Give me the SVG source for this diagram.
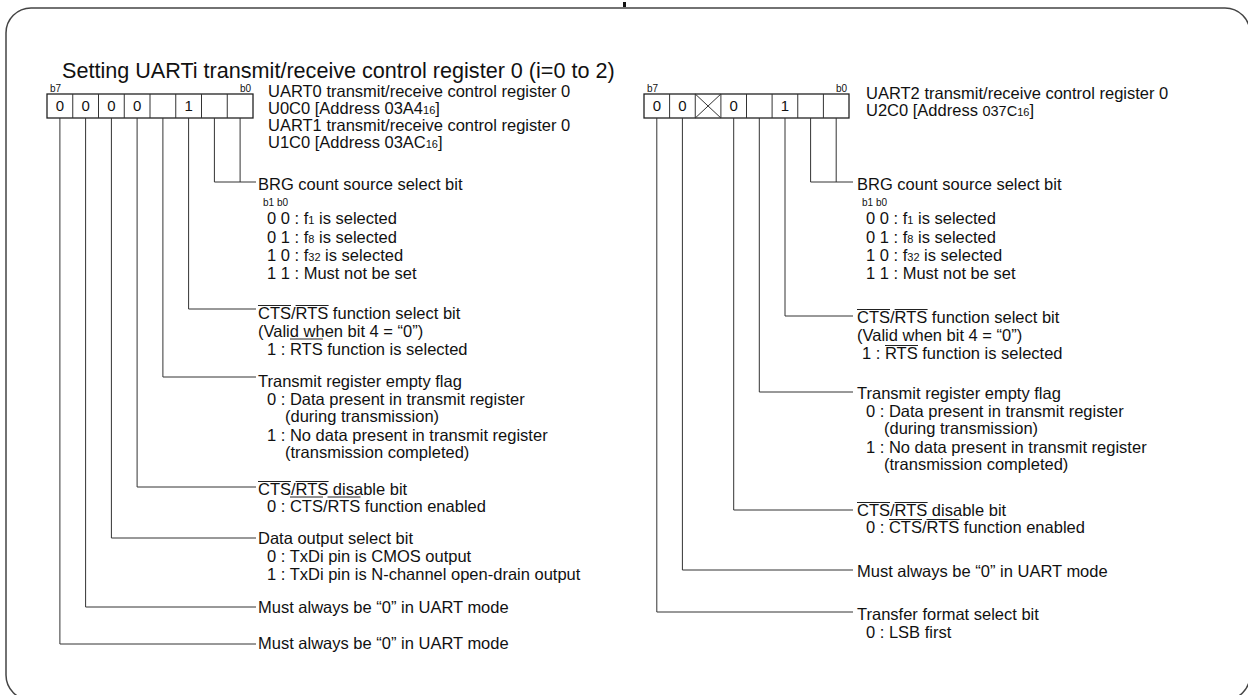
<svg xmlns="http://www.w3.org/2000/svg" width="1248" height="695" viewBox="0 0 1248 695">
<style>
text{font-family:"Liberation Sans",Arial,sans-serif;fill:#111;}
.t{font-size:21.6px;}
.b{font-size:16.5px;}
.s{font-size:10px;}
.d{font-size:15px;text-anchor:middle;}
.sub{font-size:11px;}
.ln{stroke:#333;stroke-width:1;fill:none;}
.ov{stroke:#222;stroke-width:1;fill:none;}
.box{stroke:#222;stroke-width:1.3;fill:#fff;}
</style>
<rect x="6" y="8" width="1244" height="692" rx="25" ry="25" fill="none" stroke="#444" stroke-width="1.5"/>
<rect x="623" y="2" width="3" height="5" fill="#111"/>
<text class="t" x="62" y="78">Setting UARTi transmit/receive control register 0 (i=0 to 2)</text>

<g id="reg-left">
<text class="s" x="50" y="91.5">b7</text>
<text class="s" x="251" y="91.5" text-anchor="end">b0</text>
<rect class="box" x="47" y="94" width="206" height="24"/>
<path class="ln" d="M72.75 94V118M98.5 94V118M124.25 94V118M150 94V118M175.75 94V118M201.5 94V118M227.25 94V118"/>
<text class="d" x="59.9" y="111">0</text>
<text class="d" x="85.6" y="111">0</text>
<text class="d" x="111.4" y="111">0</text>
<text class="d" x="137.1" y="111">0</text>
<text class="d" x="188.6" y="111">1</text>
<text class="b" x="268" y="97">UART0 transmit/receive control register 0</text>
<text class="b" x="268" y="114">U0C0 [Address 03A4<tspan class="sub">16</tspan>]</text>
<text class="b" x="268" y="131">UART1 transmit/receive control register 0</text>
<text class="b" x="268" y="148">U1C0 [Address 03AC<tspan class="sub">16</tspan>]</text>
</g>

<g id="reg-right">
<text class="s" x="647" y="91.5">b7</text>
<text class="s" x="847" y="91.5" text-anchor="end">b0</text>
<rect class="box" x="644" y="94" width="205" height="24"/>
<path class="ln" d="M669.6 94V118M695.25 94V118M720.9 94V118M746.5 94V118M772.1 94V118M797.75 94V118M823.4 94V118"/>
<path class="ln" d="M695.25 94L720.9 118M720.9 94L695.25 118"/>
<text class="d" x="656.8" y="111">0</text>
<text class="d" x="682.4" y="111">0</text>
<text class="d" x="733.7" y="111">0</text>
<text class="d" x="785" y="111">1</text>
<text class="b" x="866" y="99">UART2 transmit/receive control register 0</text>
<text class="b" x="866" y="116">U2C0 [Address <tspan font-size="14.5">037C</tspan><tspan class="sub">16</tspan>]</text>
</g>

<g id="connectors">
<path class="ln" d="M240.1 118V182M214.4 118V182H256"/>
<path class="ln" d="M188.6 118V309H256"/>
<path class="ln" d="M162.9 118V377H256"/>
<path class="ln" d="M137.1 118V487H256"/>
<path class="ln" d="M111.4 118V538H256"/>
<path class="ln" d="M85.6 118V607H256"/>
<path class="ln" d="M59.9 118V644H256"/>
<path class="ln" d="M836.2 118V182M810.6 118V182H853"/>
<path class="ln" d="M785 118V316H853"/>
<path class="ln" d="M759.3 118V392H853"/>
<path class="ln" d="M733.7 118V510H853"/>
<path class="ln" d="M682.4 118V570H853"/>
<path class="ln" d="M656.8 118V612H853"/>
</g>

<g id="left-brg">
<text class="b" x="258" y="190">BRG count source select bit</text>
<text class="s" x="263" y="206">b1 b0</text>
<text class="b" x="267" y="224">0 0 : f<tspan class="sub">1</tspan> is selected</text>
<text class="b" x="267" y="243">0 1 : f<tspan class="sub">8</tspan> is selected</text>
<text class="b" x="267" y="261">1 0 : f<tspan class="sub">32</tspan> is selected</text>
<text class="b" x="267" y="279">1 1 : Must not be set</text>
</g>
<g id="left-cts">
<text class="b" x="258" y="319">CTS/RTS function select bit</text>
<path class="ov" d="M258 305.5H291M295.6 305.5H328.6"/>
<text class="b" x="258" y="337">(Valid when bit 4 = “0”)</text>
<text class="b" x="267" y="355">1 : RTS function is selected</text>
<path class="ov" d="M290 339H323"/>
</g>
<g id="left-txe">
<text class="b" x="258" y="387">Transmit register empty flag</text>
<text class="b" x="267" y="405">0 : Data present in transmit register</text>
<text class="b" x="285" y="422">(during transmission)</text>
<text class="b" x="267" y="441">1 : No data present in transmit register</text>
<text class="b" x="285" y="458">(transmission completed)</text>
</g>
<g id="left-ctsdis">
<text class="b" x="258" y="495">CTS/RTS disable bit</text>
<path class="ov" d="M258 481.5H291M295.6 481.5H328.6"/>
<text class="b" x="267" y="512">0 : CTS/RTS function enabled</text>
<path class="ov" d="M290 497H323M327.5 497H360.5"/>
</g>
<g id="left-dout">
<text class="b" x="258" y="544">Data output select bit</text>
<text class="b" x="267" y="562">0 : TxDi pin is CMOS output</text>
<text class="b" x="267" y="580">1 : TxDi pin is N-channel open-drain output</text>
</g>
<g id="left-b6">
<text class="b" x="258" y="613">Must always be “0” in UART mode</text>
</g>
<g id="left-b7">
<text class="b" x="258" y="649">Must always be “0” in UART mode</text>
</g>

<g id="right-brg">
<text class="b" x="857" y="190">BRG count source select bit</text>
<text class="s" x="862" y="206">b1 b0</text>
<text class="b" x="866" y="224">0 0 : f<tspan class="sub">1</tspan> is selected</text>
<text class="b" x="866" y="243">0 1 : f<tspan class="sub">8</tspan> is selected</text>
<text class="b" x="866" y="261">1 0 : f<tspan class="sub">32</tspan> is selected</text>
<text class="b" x="866" y="279">1 1 : Must not be set</text>
</g>
<g id="right-cts">
<text class="b" x="857" y="323">CTS/RTS function select bit</text>
<path class="ov" d="M857 309.5H890M894.6 309.5H927.6"/>
<text class="b" x="857" y="341">(Valid when bit 4 = “0”)</text>
<text class="b" x="862" y="359">1 : RTS function is selected</text>
<path class="ov" d="M885 345.5H918"/>
</g>
<g id="right-txe">
<text class="b" x="857" y="399">Transmit register empty flag</text>
<text class="b" x="866" y="417">0 : Data present in transmit register</text>
<text class="b" x="884" y="434">(during transmission)</text>
<text class="b" x="866" y="453">1 : No data present in transmit register</text>
<text class="b" x="884" y="470">(transmission completed)</text>
</g>
<g id="right-ctsdis">
<text class="b" x="857" y="516">CTS/RTS disable bit</text>
<path class="ov" d="M857 502.5H890M894.6 502.5H927.6"/>
<text class="b" x="866" y="533">0 : CTS/RTS function enabled</text>
<path class="ov" d="M889 519.5H922M926.5 519.5H959.5"/>
</g>
<g id="right-b6">
<text class="b" x="857" y="577">Must always be “0” in UART mode</text>
</g>
<g id="right-b7">
<text class="b" x="857" y="620">Transfer format select bit</text>
<text class="b" x="866" y="638">0 : LSB first</text>
</g>
</svg>
